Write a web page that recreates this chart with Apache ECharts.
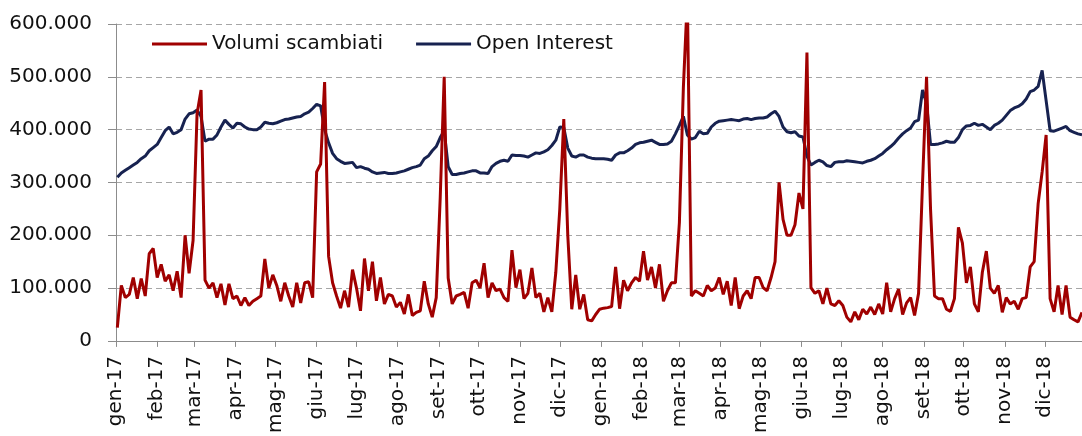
<!DOCTYPE html>
<html>
<head>
<meta charset="utf-8">
<title>Volumi scambiati e Open Interest</title>
<script src="https://cdn.jsdelivr.net/npm/echarts@6/dist/echarts.min.js"></script>
<style>
  html, body { margin: 0; padding: 0; background: #fff; }
  #chart { width: 1082px; height: 436px; }
</style>
</head>
<body>
<div id="chart"></div>
<script>
// Asse: un giorno di calendario per categoria, dal 1 gen 2017
const startDate = Date.UTC(2017, 0, 1);
const dayCount = 728;
// le serie sono lette ogni 3 giorni, a partire dal giorno 1 (2 gen 2017)
const firstDay = 1;
const stepDays = 3;

const monthNames = ['gen', 'feb', 'mar', 'apr', 'mag', 'giu', 'lug', 'ago', 'set', 'ott', 'nov', 'dic'];
const yTicks = [0, 100, 200, 300, 400, 500, 600]; // migliaia

// Volumi scambiati (migliaia di contratti)
const volumiK = [
  25, 105, 82, 88, 120, 80, 118, 85, 165, 175, 120, 145, 113, 125, 95, 132, 82, 200, 128, 190, 430, 475, 115, 100, 110, 82, 108, 68, 108, 80,
  85, 67, 82, 67, 75, 80, 85, 155, 100, 125, 105, 75, 110, 85, 64, 110, 72, 110, 112, 82, 320, 335, 490, 160, 110, 85, 62, 95, 64, 135, 100,
  57, 156, 95, 150, 76, 120, 70, 88, 85, 64, 73, 51, 88, 48, 54, 57, 113, 70, 45, 82, 271, 500, 119, 70, 85, 88, 92, 62, 110, 115,
  100, 147, 82, 110, 95, 98, 82, 75, 172, 101, 135, 80, 90, 138, 82, 90, 55, 82, 55, 130, 250, 420, 200, 60, 125, 60, 88, 40, 38, 50, 60,
  62, 63, 65, 140, 61, 115, 95, 110, 120, 113, 170, 115, 140, 100, 145, 75, 95, 110, 110, 224, 480, 650, 85, 95, 90, 85, 105, 95, 100, 120, 88,
  113, 67, 120, 61, 85, 95, 80, 120, 120, 101, 95, 120, 150, 300, 230, 200, 200, 220, 280, 250, 546, 101, 90, 95, 70, 100, 70, 67, 76, 67,
  45, 36, 55, 40, 60, 51, 64, 50, 70, 51, 110, 55, 80, 98, 50, 72, 82, 48, 90, 300, 500, 250, 85, 80, 80, 60, 56, 80, 215, 185, 110,
  140, 70, 55, 130, 170, 100, 90, 105, 54, 82, 70, 75, 60, 80, 82, 140, 150, 260, 320, 390, 80, 55, 105, 50, 105, 45, 40, 36, 54
];

// Open Interest (migliaia di contratti)
const openInterestK = [
  310, 318, 323, 328, 333, 338, 345, 350, 360, 366, 372, 385, 398, 405, 392, 395, 400, 420, 430, 432, 437, 425, 378, 382, 382, 390, 405, 418, 410, 403,
  412, 411, 405, 401, 400, 400, 405, 414, 412, 411, 413, 416, 419, 420, 422, 424, 425, 430, 433, 440, 448, 445, 400, 375, 355, 345, 340, 336, 337, 338, 328,
  330, 327, 325, 320, 317, 318, 319, 317, 317, 318, 320, 322, 325, 328, 330, 333, 345, 350, 360, 368, 385, 398, 330, 315, 315, 317, 318, 320, 322, 322,
  318, 318, 317, 330, 336, 340, 342, 340, 352, 351, 351, 350, 348, 352, 356, 355, 358, 362, 370, 380, 405, 404, 365, 350, 348, 352, 352, 348, 346, 345, 345,
  345, 344, 342, 352, 356, 356, 360, 365, 372, 375, 376, 378, 380, 376, 372, 372, 373, 378, 392, 408, 425, 390, 382, 385, 397, 392, 393, 405, 412, 416, 417,
  418, 419, 418, 417, 420, 421, 419, 421, 422, 422, 424, 430, 435, 425, 405, 396, 394, 396, 388, 386, 350, 333, 338, 342, 339, 332, 330, 338, 339, 339,
  341, 340, 339, 338, 337, 340, 342, 345, 350, 355, 362, 368, 375, 384, 392, 398, 403, 415, 418, 475, 450, 372, 372, 373, 375, 378, 376, 376, 385, 400, 407,
  408, 412, 408, 410, 405, 400, 408, 412, 418, 427, 436, 441, 444, 449, 458, 472, 475, 482, 512, 455, 398, 397, 400, 403, 406, 398, 395, 392, 390
];

const days = [];
for (let i = 0; i < dayCount; i++) days.push(new Date(startDate + i * 86400000));

function spread(values) {
  const out = new Array(dayCount).fill(null);
  values.forEach((v, k) => {
    const idx = firstDay + k * stepDays;
    if (idx < dayCount) out[idx] = v;
  });
  return out;
}

function isMonthStart(index) {
  return days[index].getUTCDate() === 1;
}

const font = 'DejaVu Sans';
const chart = echarts.init(document.getElementById('chart'));
chart.setOption({
  animation: false,
  grid: { left: 116, right: 0, top: 24, bottom: 88 },
  legend: {
    data: ['Volumi scambiati', 'Open Interest'],
    left: 147,
    top: 29,
    icon: 'rect',
    itemWidth: 55,
    itemHeight: 3,
    itemGap: 33,
    textStyle: { fontFamily: font, fontSize: 20, color: '#111' }
  },
  xAxis: {
    type: 'category',
    boundaryGap: false,
    data: days.map((d, i) => i),
    axisLine: { lineStyle: { color: '#8c8c8c', width: 1 } },
    axisTick: { show: true, length: 6, interval: (i) => isMonthStart(i), lineStyle: { color: '#8c8c8c' } },
    axisLabel: {
      interval: (i) => isMonthStart(i),
      rotate: 90,
      margin: 15,
      fontFamily: font,
      fontSize: 20,
      color: '#111',
      formatter: (v) => {
        const d = days[v];
        return monthNames[d.getUTCMonth()] + '-' + String(d.getUTCFullYear()).slice(2);
      }
    },
    splitLine: { show: false }
  },
  yAxis: {
    type: 'value',
    min: yTicks[0],
    max: yTicks[yTicks.length - 1],
    interval: 100,
    axisLine: { show: true, lineStyle: { color: '#8c8c8c', width: 1 } },
    axisTick: { show: true, length: 8, lineStyle: { color: '#8c8c8c' } },
    axisLabel: {
      margin: 24,
      fontFamily: font,
      fontSize: 20,
      color: '#111',
      formatter: (v) => (v === 0 ? '0' : v + '.000')
    },
    splitLine: { lineStyle: { color: '#a6a6a6', type: [6, 4], width: 1 } }
  },
  series: [
    {
      name: 'Volumi scambiati',
      type: 'line',
      data: spread(volumiK),
      connectNulls: true,
      showSymbol: false,
      z: 3,
      color: '#a00000',
      lineStyle: { width: 3, color: '#a00000' }
    },
    {
      name: 'Open Interest',
      type: 'line',
      data: spread(openInterestK),
      connectNulls: true,
      showSymbol: false,
      z: 2,
      color: '#172250',
      lineStyle: { width: 3, color: '#172250' }
    }
  ]
});
</script>
</body>
</html>
